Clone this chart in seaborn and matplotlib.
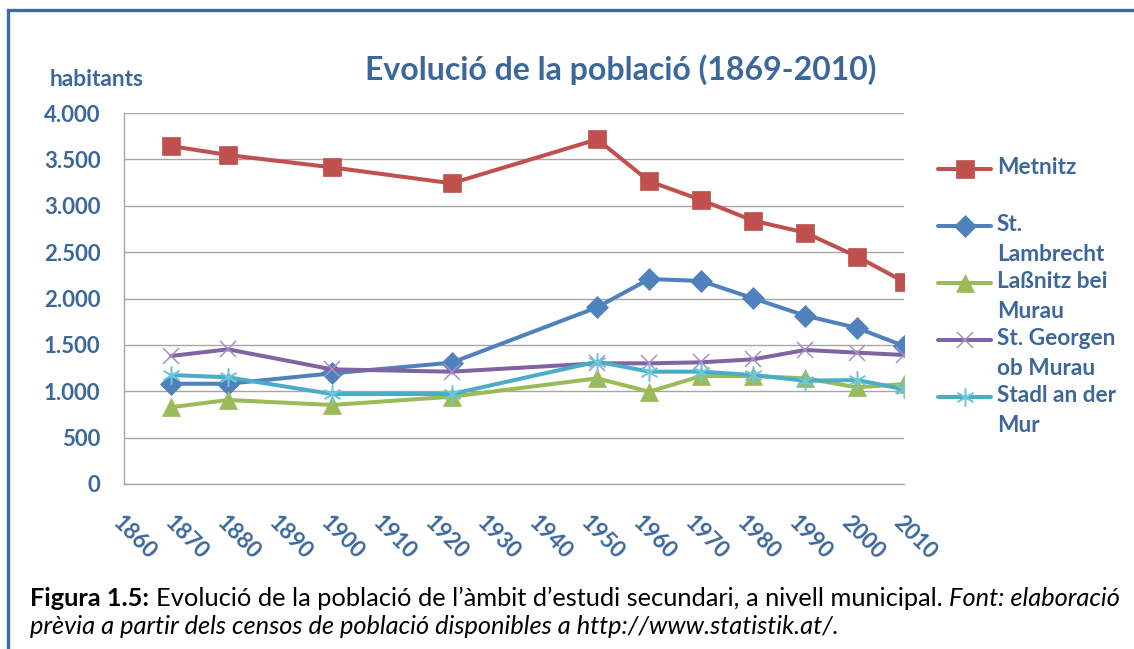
import numpy as np
import pandas as pd
import matplotlib
matplotlib.use("Agg")
import matplotlib.pyplot as plt
import matplotlib.transforms as mtransforms
from matplotlib.legend_handler import HandlerLine2D
from matplotlib.patches import Rectangle
import seaborn as sns

# ---------------- data ----------------
years = [1869, 1880, 1900, 1923, 1951, 1961, 1971, 1981, 1991, 2001, 2010]
metnitz = [3644, 3547, 3414, 3242, 3716, 3264, 3062, 2839, 2710, 2451, 2181]
st_lambrecht = [1081, 1081, 1193, 1308, 1905, 2210, 2189, 2002, 1815, 1682, 1488]
lassnitz = [827, 906, 852, 941, 1139, 995, 1164, 1164, 1139, 1042, 1078]
st_georgen = [1380, 1452, 1236, 1211, 1301, 1301, 1312, 1344, 1445, 1416, 1391]
stadl = [1175, 1150, 970, 970, 1319, 1211, 1211, 1175, 1114, 1121, 1021]

series_names = ["Metnitz", "St. Lambrecht", "Laßnitz bei Murau",
                "St. Georgen ob Murau", "Stadl an der Mur"]
legend_labels = ["Metnitz\n ", "St.\nLambrecht", "Laßnitz bei\nMurau",
                 "St. Georgen\nob Murau", "Stadl an der\nMur"]
series_values = [metnitz, st_lambrecht, lassnitz, st_georgen, stadl]

x_ticks = [1860, 1870, 1880, 1890, 1900, 1910, 1920, 1930, 1940, 1950,
           1960, 1970, 1980, 1990, 2000, 2010]
x_tick_labels = [str(v) for v in x_ticks]
y_ticks = [0, 500, 1000, 1500, 2000, 2500, 3000, 3500, 4000]
y_tick_labels = ["0", "500", "1.000", "1.500", "2.000", "2.500", "3.000", "3.500", "4.000"]

title_text = "Evolució de la població (1869-2010)"
y_label_text = "habitants"
caption_runs = [("Figura 1.5:", "bold"),
                ("Evolució de la població de l’àmbit d’estudi secundari, a nivell municipal.", "normal"),
                ("Font: elaboració", "italic")]
caption_line2 = "prèvia a partir dels censos de població disponibles a http://www.statistik.at/."

# ---------------- style ----------------
sns.set_style("white")
plt.rcParams["font.family"] = ["Lato", "DejaVu Sans"]

W, H = 1134, 649
BLUE_TXT = "#3B679B"
GRID = "#A6A6A6"
line_colors = ["#C0504D", "#4F81BD", "#9BBB59", "#8064A2", "#4BACC6"]
edge_colors = ["#C0504D", "#4F81BD", "#9BBB59", "#A690C8", "#6CC6DC"]
markers = ["s", "D", "^", "x", (6, 2, 0)]
msizes = [13, 11, 12.5, 12, 13]
mews = [0.5, 0.5, 0.5, 1.1, 1.1]

df = pd.DataFrame({
    "year": np.tile(years, len(series_names)),
    "value": np.concatenate(series_values),
    "series": np.repeat(series_names, len(years)),
})

fig = plt.figure(figsize=(W / 100, H / 100), dpi=100)
ax = fig.add_axes([124 / W, 1 - 484 / H, 780 / W, 371 / H])

for i, name in enumerate(series_names):
    sub = df[df["series"] == name]
    sns.lineplot(data=sub, x="year", y="value", ax=ax, color=line_colors[i],
                 linewidth=2.9, marker=markers[i], markersize=msizes[i],
                 mec=edge_colors[i], mew=mews[i], mfc=line_colors[i],
                 errorbar=None, estimator=None, legend=False, zorder=3 + i)

ax.set_xlim(1860, 2010)
ax.set_ylim(0, 4000)
ax.set_xlabel("")
ax.set_ylabel("")

ax.set_yticks(y_ticks)
ax.set_yticklabels(y_tick_labels, fontsize=16, fontweight="bold", color=BLUE_TXT)
ax.tick_params(axis="y", length=0, pad=17)
ax.yaxis.grid(True, color=GRID, linewidth=1.0)
ax.xaxis.grid(False)

ax.set_xticks(x_ticks)
ax.tick_params(axis="x", direction="out", length=5.8, width=0.8, color=GRID, pad=14)
ax.set_xticklabels(x_tick_labels, rotation=-45, ha="left", va="top",
                   rotation_mode="anchor", fontsize=16, fontweight="bold", color=BLUE_TXT)

for s in ["top", "right"]:
    ax.spines[s].set_visible(False)
for s in ["left", "bottom"]:
    ax.spines[s].set_color(GRID)
    ax.spines[s].set_linewidth(1.0)
ax.set_axisbelow(True)


# ---------------- legend ----------------
class FirstLineHandler(HandlerLine2D):
    def __init__(self, shift_pt, **kw):
        super().__init__(**kw)
        self.shift_pt = shift_pt

    def create_artists(self, legend, orig_handle, xdescent, ydescent, width,
                       height, fontsize, trans):
        return super().create_artists(legend, orig_handle, xdescent,
                                      ydescent - 2 * self.shift_pt, width,
                                      height, fontsize, trans)


handles = list(ax.get_lines())
shift = 0.5 * 28.5 * 72 / 100
leg = ax.legend(handles, legend_labels,
                handler_map={h: FirstLineHandler(shift, numpoints=1) for h in handles},
                loc="upper left", bbox_to_anchor=(938 / W, 1 - 157 / H),
                bbox_transform=fig.transFigure, frameon=False, borderpad=0,
                borderaxespad=0, handlelength=2.35, handletextpad=0.25,
                labelspacing=0.25, numpoints=1,
                prop={"family": ["Lato", "DejaVu Sans"], "weight": "bold", "size": 16.3})
for t in leg.get_texts():
    t.set_color(BLUE_TXT)
    t.set_linespacing(1.55)

# ---------------- texts ----------------
renderer = fig.canvas.get_renderer()


def fit_size(text, target_px, base=16, **kw):
    t = fig.text(0, 0, text, fontsize=base, **kw)
    w = t.get_window_extent(renderer).width
    t.remove()
    return base * target_px / w


ts = fit_size(title_text, 512, weight="bold")
fig.text(365 / W, 1 - 80 / H, title_text, fontsize=ts, weight="bold",
         color=BLUE_TXT, ha="left", va="baseline")
hs = fit_size(y_label_text, 95, weight="bold")
fig.text(50 / W, 1 - 86 / H, y_label_text, fontsize=hs, weight="bold",
         color=BLUE_TXT, ha="left", va="baseline")


def style_kw(st):
    if st == "bold":
        return {"weight": "bold"}
    if st == "italic":
        return {"style": "italic"}
    return {}


def runs_width(size):
    total = 0
    for txt, st in caption_runs:
        t = fig.text(0, 0, txt, fontsize=size, **style_kw(st))
        total += t.get_window_extent(renderer).width
        t.remove()
    g = fig.text(0, 0, "x x", fontsize=size)
    g2 = fig.text(0, 0, "xx", fontsize=size)
    gap = g.get_window_extent(renderer).width - g2.get_window_extent(renderer).width
    g.remove(); g2.remove()
    return total + gap * (len(caption_runs) - 1), gap


w0, _ = runs_width(14)
cs = 14 * 1095 / w0
_, gap = runs_width(cs)
xpos = 30
for txt, st in caption_runs:
    t = fig.text(xpos / W, 1 - 606 / H, txt, fontsize=cs, color="black",
                 ha="left", va="baseline", **style_kw(st))
    xpos = t.get_window_extent(renderer).x1 + gap
fig.text(30 / W, 1 - 634 / H, caption_line2, fontsize=cs, style="italic",
         color="black", ha="left", va="baseline")

# ---------------- frame ----------------
fig.patches.append(Rectangle((8 / W, -0.2), 1.5, 1.2 - 10 / H,
                             transform=fig.transFigure, fill=False,
                             edgecolor="#3C6A9E", linewidth=2.4, zorder=0))

fig.savefig("out.png", dpi=100)
